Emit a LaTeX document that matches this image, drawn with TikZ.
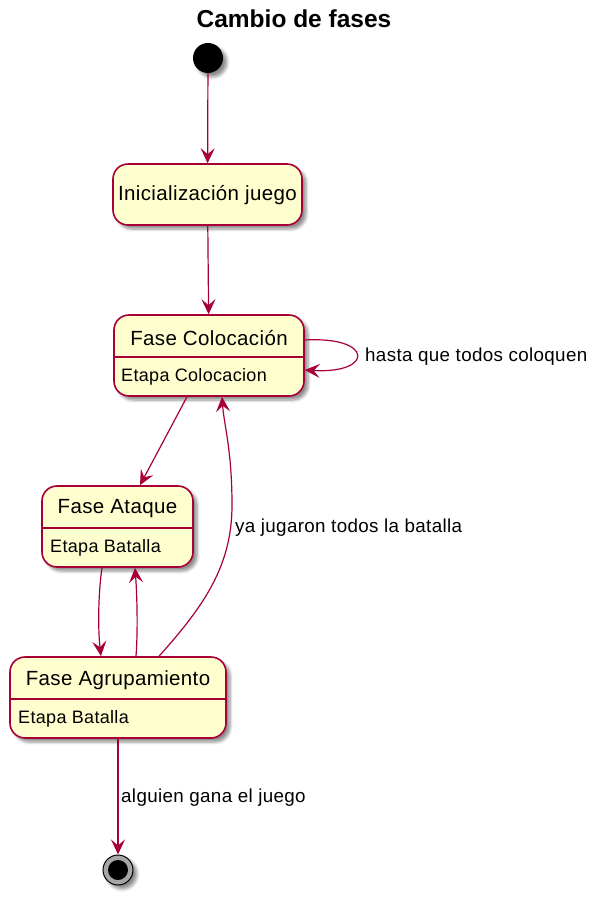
\documentclass[tikz,border=0pt]{standalone}
\usepackage{fontspec}
\setmainfont{Liberation Sans}
\newfontfamily\spfont[LetterSpace=1.8]{Liberation Sans}
\usetikzlibrary{arrows.meta,shadows,shadows.blur}
\definecolor{pumlred}{HTML}{A80036}
\definecolor{pumlfill}{HTML}{FEFECE}
\begin{document}
\begin{tikzpicture}[x=1pt,y=1pt,
  shd/.style={blur shadow={shadow xshift=4pt,shadow yshift=-4pt,shadow blur radius=3pt,shadow blur steps=6,shadow opacity=45}},
  statebox/.style={draw=pumlred,fill=pumlfill,line width=1.6pt,rounded corners=15pt,inner sep=0pt,shd},
  sep/.style={draw=pumlred,line width=1.6pt},
  sttitle/.style={font=\spfont\fontsize{20.5}{24}\selectfont,inner sep=0pt,anchor=center},
  stbody/.style={font=\spfont\fontsize{18}{22}\selectfont,inner sep=0pt,anchor=west},
  lbl/.style={font=\spfont\fontsize{18.8}{22}\selectfont,inner sep=0pt,anchor=west},
  arr/.style={draw=pumlred,line width=1.2pt,-{Stealth[length=15pt,width=14pt,inset=6pt]}},
  startst/.style={circle,fill=black,minimum size=30pt,inner sep=0pt,shd},
  endst/.style={circle,draw=black,line width=1pt,fill=black!35,minimum size=30pt,inner sep=0pt,shd,
    path picture={\fill[black] (path picture bounding box.center) circle (10pt);}}
]
\useasboundingbox (0,0) rectangle (606,-900);

\node[font=\bfseries\fontsize{24.5}{28}\selectfont,inner sep=0pt] (title) at (294,-19) {Cambio de fases};

\node[startst] (start) at (208,-58) {};

\node[statebox,minimum width=189pt,minimum height=61pt] (init) at (207.5,-194.5) {};
\node[sttitle] (initt) at (207.5,-195) {Inicialización juego};

\node[statebox,minimum width=190pt,minimum height=81pt] (col) at (209,-355.5) {};
\draw[sep] (col.west |- 0,-357) -- (col.east |- 0,-357);
\node[sttitle] (colt) at (209,-338) {Fase Colocación};
\node[stbody] (colb) at (121,-377) {Etapa Colocacion};

\node[statebox,minimum width=151pt,minimum height=81pt] (ata) at (117.5,-526.5) {};
\draw[sep] (ata.west |- 0,-528) -- (ata.east |- 0,-528);
\node[sttitle] (atat) at (117.5,-509) {Fase Ataque};
\node[stbody] (atab) at (50,-548) {Etapa Batalla};

\node[statebox,minimum width=216pt,minimum height=81pt] (agr) at (118,-697.5) {};
\draw[sep] (agr.west |- 0,-699) -- (agr.east |- 0,-699);
\node[sttitle] (agrt) at (118,-680) {Fase Agrupamiento};
\node[stbody] (agrb) at (18,-719) {Etapa Batalla};

\node[endst] (end) at (118,-870) {};

% connectors
\draw[arr] (start) -- (init);
\draw[arr] (init) -- (col);
\draw[arr] ([yshift=15.5pt]col.east) .. controls (374,-336) and (374,-374) .. ([yshift=-14.5pt]col.east);
\node[lbl] (l1) at (365,-357) {hasta que todos coloquen};
\draw[arr] ([xshift=-22pt]col.south) -- ([xshift=22.5pt]ata.north);
\draw[arr] ([xshift=-15.5pt]ata.south) .. controls (98,-595) and (98,-630) .. ([xshift=-17pt]agr.north);
\draw[arr] ([xshift=18pt]agr.north) .. controls (138,-630) and (137,-595) .. ([xshift=17.5pt]ata.south);
\draw[arr] ([xshift=41pt]agr.north) .. controls (205,-605) and (232,-565) .. (232,-505) .. controls (232,-450) and (224,-425) .. ([xshift=13pt]col.south);
\node[lbl] (l2) at (235,-528) {ya jugaron todos la batalla};
\draw[arr] (agr) -- (end);
\node[lbl] (l3) at (121,-798) {alguien gana el juego};
\end{tikzpicture}
\end{document}
